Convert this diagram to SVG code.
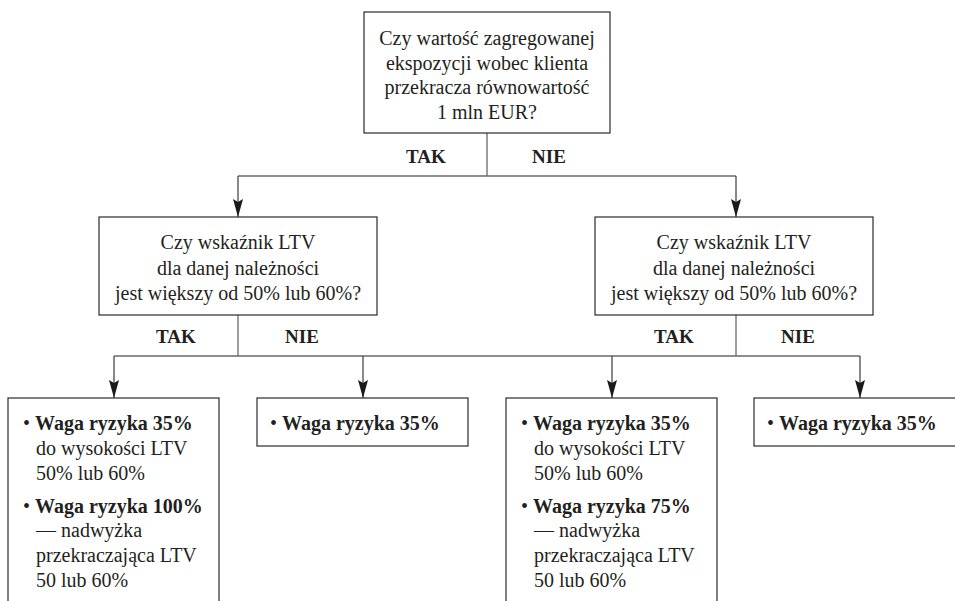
<svg xmlns="http://www.w3.org/2000/svg" width="955" height="601" viewBox="0 0 955 601">
  <style>
    .box { fill: #ffffff; stroke: #2b2b2b; stroke-width: 1.2; }
    .t { font-family: 'Liberation Serif', Tinos, 'Times New Roman', Times, 'Noto Serif', 'DejaVu Serif', serif; font-size: 20px; fill: #231f20; }
    .c { text-anchor: middle; }
    .b { font-weight: bold; }
    .lbl { font-family: 'Liberation Serif', Tinos, 'Times New Roman', Times, 'Noto Serif', 'DejaVu Serif', serif; font-size: 19px; font-weight: bold; fill: #231f20; text-anchor: middle; }
    .ln { fill: none; stroke: #6a6a6a; stroke-width: 1.3; }
    .ar { fill: none; stroke: #4a4a4a; stroke-width: 1.3; marker-end: url(#ah); }
  </style>
  <defs>
    <marker id="ah" markerUnits="userSpaceOnUse" markerWidth="20" markerHeight="12" viewBox="0 -6 20 12" refX="18" refY="0" orient="auto">
      <path d="M0,-5 L18,0 L0,5 L3,0 Z" fill="#1a1a1a"/>
    </marker>
  </defs>
  <rect width="955" height="601" fill="#ffffff"/>

  <g id="connectors">
    <path class="ln" d="M487,133 V176 M238,176 H736"/>
    <path class="ar" d="M238,176 V217"/>
    <path class="ar" d="M736,176 V217"/>
    <path class="ln" d="M238,315 V356 M736,315 V356 M114,356 H860"/>
    <path class="ar" d="M114,356 V398"/>
    <path class="ar" d="M363,356 V398"/>
    <path class="ar" d="M612,356 V398"/>
    <path class="ar" d="M860,356 V398"/>
  </g>

  <g id="labels">
    <text class="lbl" x="426" y="163">TAK</text>
    <text class="lbl" x="549" y="163">NIE</text>
    <text class="lbl" x="176" y="343">TAK</text>
    <text class="lbl" x="302" y="343">NIE</text>
    <text class="lbl" x="674" y="343">TAK</text>
    <text class="lbl" x="798" y="343">NIE</text>
  </g>

  <g id="q1">
    <rect class="box" x="364" y="12" width="246" height="121"/>
    <text class="t c" x="487" y="45">Czy wartość zagregowanej</text>
    <text class="t c" x="487" y="70">ekspozycji wobec klienta</text>
    <text class="t c" x="487" y="94">przekracza równowartość</text>
    <text class="t c" x="487" y="119">1 mln EUR?</text>
  </g>

  <g id="q2">
    <rect class="box" x="99" y="217" width="278" height="98"/>
    <text class="t c" x="238" y="249">Czy wskaźnik LTV</text>
    <text class="t c" x="238" y="275">dla danej należności</text>
    <text class="t c" x="238" y="300">jest większy od 50% lub 60%?</text>
  </g>

  <g id="q3">
    <rect class="box" x="595" y="217" width="278" height="98"/>
    <text class="t c" x="734" y="249">Czy wskaźnik LTV</text>
    <text class="t c" x="734" y="275">dla danej należności</text>
    <text class="t c" x="734" y="300">jest większy od 50% lub 60%?</text>
  </g>

  <g id="r1">
    <rect class="box" x="8" y="398" width="211" height="230"/>
    <text class="t" x="23" y="430">• <tspan class="b">Waga ryzyka 35%</tspan></text>
    <text class="t" x="36" y="455">do wysokości LTV</text>
    <text class="t" x="36" y="480">50% lub 60%</text>
    <text class="t" x="23" y="513">• <tspan class="b">Waga ryzyka 100%</tspan></text>
    <text class="t" x="36" y="537">— nadwyżka</text>
    <text class="t" x="36" y="562">przekraczająca LTV</text>
    <text class="t" x="36" y="587">50 lub 60%</text>
  </g>

  <g id="r2">
    <rect class="box" x="257" y="398" width="211" height="48"/>
    <text class="t" x="270" y="430">• <tspan class="b">Waga ryzyka 35%</tspan></text>
  </g>

  <g id="r3">
    <rect class="box" x="506" y="398" width="211" height="230"/>
    <text class="t" x="521" y="430">• <tspan class="b">Waga ryzyka 35%</tspan></text>
    <text class="t" x="534" y="455">do wysokości LTV</text>
    <text class="t" x="534" y="480">50% lub 60%</text>
    <text class="t" x="521" y="513">• <tspan class="b">Waga ryzyka 75%</tspan></text>
    <text class="t" x="534" y="537">— nadwyżka</text>
    <text class="t" x="534" y="562">przekraczająca LTV</text>
    <text class="t" x="534" y="587">50 lub 60%</text>
  </g>

  <g id="r4">
    <rect class="box" x="754" y="398" width="230" height="48"/>
    <text class="t" x="767" y="430">• <tspan class="b">Waga ryzyka 35%</tspan></text>
  </g>
</svg>
